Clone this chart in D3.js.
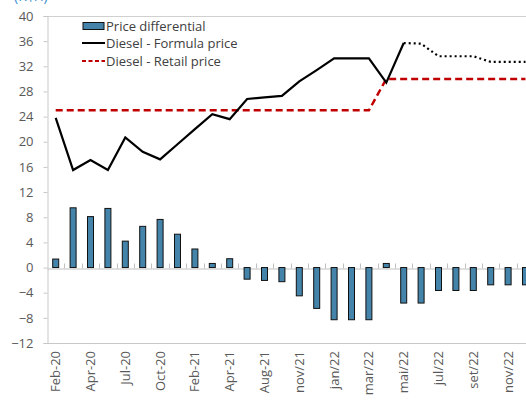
<!DOCTYPE html>
<html>
<head>
<meta charset="utf-8">
<script src="https://cdn.jsdelivr.net/npm/d3@7"></script>
<style>
  body { margin: 0; background: #fff; }
  svg { display: block; font-family: "Open Sans", "Noto Sans", sans-serif; }
</style>
</head>
<body>
<div id="chart-area"></div>
<script>
// categories (every other one gets a label)
const categories = ["Feb-20", "Mar-20", "Apr-20", "May-20", "Jul-20", "Aug-20", "Oct-20", "Dec-20",
  "Feb-21", "Mar-21", "Apr-21", "Jun-21", "Aug-21", "Oct-21", "nov/21", "dez/21", "jan/22", "fev/22",
  "mar/22", "abr/22", "mai/22", "jun/22", "jul/22", "ago/22", "set/22", "out/22", "nov/22", "dez/22"]

const priceDifferential = [1.35, 9.5, 8.1, 9.4, 4.2, 6.55, 7.65, 5.3, 2.95, 0.65, 1.4, -1.85, -2.05, -2.25,
  -4.5, -6.5, -8.3, -8.3, -8.3, 0.65, -5.65, -5.65, -3.65, -3.65, -3.65, -2.75, -2.75, -2.75]

const formulaPrice = [23.8, 15.5, 17.1, 15.5, 20.7, 18.4, 17.2, 19.6, 22.0, 24.4, 23.6, 26.8, 27.05, 27.3,
  29.6, 31.4, 33.25, 33.25, 33.25, 29.4, 35.7, 35.6, 33.6, 33.6, 33.6, 32.7, 32.7, 32.7]

const retailPrice = [25, 25, 25, 25, 25, 25, 25, 25, 25, 25, 25, 25, 25, 25,
  25, 25, 25, 25, 25, 30, 30, 30, 30, 30, 30, 30, 30, 30]

const yTicks = [-12, -8, -4, 0, 4, 8, 12, 16, 20, 24, 28, 32, 36, 40]
const projectedFrom = 20 // formula price turns dotted from mai/22

const W = 526, H = 401
const MARGIN = { LEFT: 47, TOP: 16, BOTTOM: 343 }
const STEP = 17.4

const svg = d3.select("#chart-area").append("svg")
  .attr("width", W)
  .attr("height", H)

const x = d3.scaleBand()
  .domain(categories)
  .range([MARGIN.LEFT, MARGIN.LEFT + STEP * categories.length])

const y = d3.scaleLinear()
  .domain([-12, 40])
  .range([MARGIN.BOTTOM, MARGIN.TOP])

const cx = d => x(d) + x.bandwidth() / 2

// title fragment, cut at the top as in the source
svg.append("text")
  .attr("x", 14)
  .attr("y", 1)
  .attr("font-size", "14px")
  .attr("fill", "#3d8fd1")
  .text("(R$/l)")

// plot frame
svg.append("line")
  .attr("x1", MARGIN.LEFT).attr("x2", W)
  .attr("y1", MARGIN.TOP + 0.5).attr("y2", MARGIN.TOP + 0.5)
  .attr("stroke", "#d0d0d0")
svg.append("line")
  .attr("x1", MARGIN.LEFT).attr("x2", W)
  .attr("y1", MARGIN.BOTTOM + 0.5).attr("y2", MARGIN.BOTTOM + 0.5)
  .attr("stroke", "#c8c8c8")

// Y axis
const yAxis = svg.append("g")
  .attr("transform", `translate(${MARGIN.LEFT + 0.5}, 0)`)
  .call(d3.axisLeft(y).tickValues(yTicks).tickSize(4).tickPadding(10))
yAxis.select(".domain").attr("stroke", "#c8c8c8")
yAxis.selectAll(".tick line").attr("stroke", "#c8c8c8")
yAxis.selectAll(".tick text")
  .attr("fill", "#595959")
  .attr("font-size", "13px")
  .attr("font-family", "Open Sans, sans-serif")

// zero line with category ticks
const zeroAxis = svg.append("g")
  .attr("transform", `translate(0, ${Math.round(y(0)) + 0.5})`)
  .call(d3.axisTop(x).tickSize(0).tickFormat(""))
zeroAxis.select(".domain").attr("stroke", "#c0c0c0")
zeroAxis.selectAll(".tick").remove()
zeroAxis.selectAll("line.sep")
  .data(categories.slice(1))
  .enter().append("line")
  .attr("class", "sep")
  .attr("x1", d => Math.round(x(d)) + 0.5)
  .attr("x2", d => Math.round(x(d)) + 0.5)
  .attr("y1", 0).attr("y2", -5)
  .attr("stroke", "#c0c0c0")

// category labels
svg.append("g")
  .selectAll("text")
  .data(categories.filter((d, i) => i % 2 === 0))
  .enter().append("text")
  .attr("transform", d => `translate(${cx(d) + 4.5}, ${MARGIN.BOTTOM + 8}) rotate(-90)`)
  .attr("text-anchor", "end")
  .attr("font-size", "13px")
  .attr("fill", "#595959")
  .text(d => d)

// bars
const barW = 6
svg.append("g")
  .selectAll("rect")
  .data(categories)
  .enter().append("rect")
  .attr("x", d => cx(d) - barW / 2)
  .attr("y", (d, i) => y(Math.max(0, priceDifferential[i])))
  .attr("width", barW)
  .attr("height", (d, i) => Math.abs(y(priceDifferential[i]) - y(0)))
  .attr("fill", "#4483aa")
  .attr("stroke", "#111")
  .attr("stroke-width", 1)

// retail price (red dashed)
const line = d3.line()
  .x(d => cx(d.c))
  .y(d => y(d.v))

const retailData = categories.map((c, i) => ({ c, v: retailPrice[i] }))
svg.append("path")
  .datum(retailData)
  .attr("d", line)
  .attr("fill", "none")
  .attr("stroke", "#c00000")
  .attr("stroke-width", 2.5)
  .attr("stroke-dasharray", "7,4")

// formula price: solid, then dotted
const formulaData = categories.map((c, i) => ({ c, v: formulaPrice[i] }))
svg.append("path")
  .datum(formulaData.slice(0, projectedFrom + 1))
  .attr("d", line)
  .attr("fill", "none")
  .attr("stroke", "#000")
  .attr("stroke-width", 2.2)
svg.append("path")
  .datum(formulaData.slice(projectedFrom))
  .attr("d", line)
  .attr("fill", "none")
  .attr("stroke", "#000")
  .attr("stroke-width", 2.2)
  .attr("stroke-dasharray", "2,3")

// legend
const lg = svg.append("g").attr("font-size", "13px").attr("fill", "#404040")
lg.append("rect")
  .attr("x", 83).attr("y", 22.5).attr("width", 21).attr("height", 7)
  .attr("fill", "#4483aa").attr("stroke", "#111")
lg.append("line")
  .attr("x1", 82).attr("x2", 105).attr("y1", 43).attr("y2", 43)
  .attr("stroke", "#000").attr("stroke-width", 2)
lg.append("line")
  .attr("x1", 82).attr("x2", 105).attr("y1", 61).attr("y2", 61)
  .attr("stroke", "#c00000").attr("stroke-width", 2)
  .attr("stroke-dasharray", "4,2.5")
lg.append("text").attr("x", 106).attr("y", 31).text("Price differential")
lg.append("text").attr("x", 106).attr("y", 48).text("Diesel - Formula price")
lg.append("text").attr("x", 106).attr("y", 66).text("Diesel - Retail price")
</script>
</body>
</html>
